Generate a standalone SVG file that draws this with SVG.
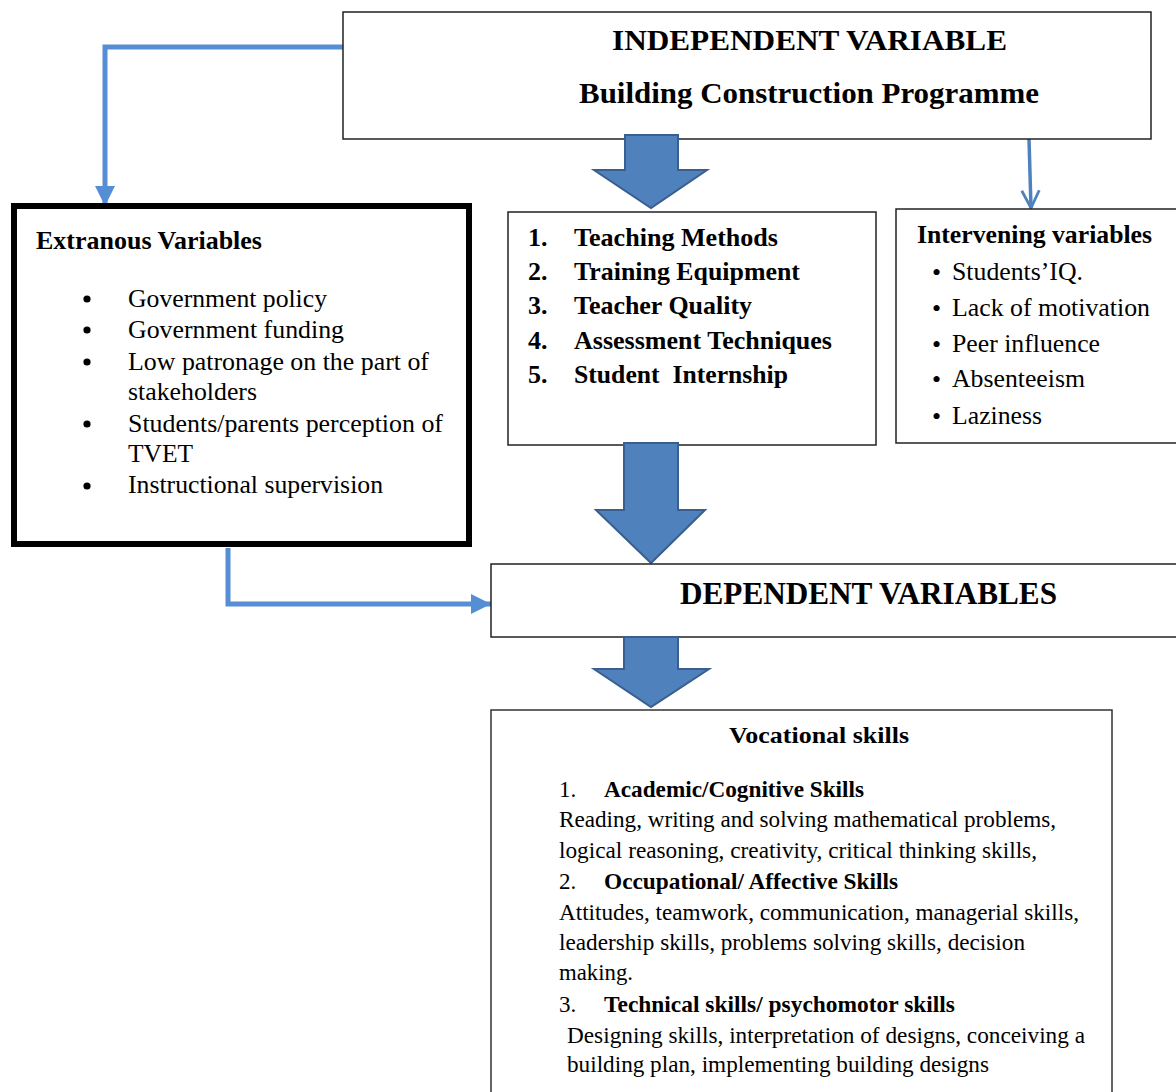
<svg xmlns="http://www.w3.org/2000/svg" width="1176" height="1092" viewBox="0 0 1176 1092">
<style>
text{font-family:"Liberation Serif","Times New Roman",serif;fill:#000}
.b{font-weight:bold}
.box{fill:#fff;stroke:#222;stroke-width:1.5}
.blk{fill:#4F81BD;stroke:#3A5F8E;stroke-width:2;stroke-linejoin:miter}
.ln{fill:none;stroke:#558ED5;stroke-width:5}
.r23{font-size:23px}
.r26{font-size:26px}
.dot{fill:#000}
</style>
<defs>
<marker id="ah" viewBox="0 0 10 10" refX="10" refY="5" markerWidth="4" markerHeight="4" orient="auto" markerUnits="strokeWidth">
<path d="M0,0 L10,5 L0,10 z" fill="#558ED5"/>
</marker>
<marker id="ov" viewBox="0 0 12 12" refX="11" refY="6" markerWidth="6" markerHeight="6" orient="auto" markerUnits="strokeWidth">
<path d="M1,1 L11,6 L1,11" fill="none" stroke="#4F81BD" stroke-width="1.6"/>
</marker>
</defs>

<g id="connectors">
<polyline class="ln" points="345,47 105,47 105,206" marker-end="url(#ah)"/>
<polyline class="ln" points="228,548 228,604 491,604" marker-end="url(#ah)"/>
<line x1="1029" y1="139" x2="1031" y2="208" stroke="#4F81BD" stroke-width="3.5" marker-end="url(#ov)"/>
</g>

<g id="independent">
<rect class="box" x="343" y="12" width="808" height="127"/>
<text class="b" x="612" y="50" font-size="30" textLength="395" lengthAdjust="spacingAndGlyphs">INDEPENDENT VARIABLE</text>
<text class="b" x="579" y="103" font-size="30" textLength="460" lengthAdjust="spacingAndGlyphs">Building Construction Programme</text>
</g>

<g id="arrow1">
<path class="blk" d="M625,135 L678,135 L678,170 L707,170 L651,208 L594,170 L625,170 Z"/>
</g>

<g id="extraneous">
<rect x="14" y="206" width="455" height="338" fill="#fff" stroke="#000" stroke-width="6"/>
<text class="b" x="36" y="249" font-size="25" textLength="226" lengthAdjust="spacingAndGlyphs">Extranous Variables</text>
<circle class="dot" cx="87" cy="299" r="3.6"/>
<circle class="dot" cx="87" cy="330" r="3.6"/>
<circle class="dot" cx="87" cy="362" r="3.6"/>
<circle class="dot" cx="87" cy="424" r="3.6"/>
<circle class="dot" cx="87" cy="486" r="3.6"/>
<g class="r26">
<text x="128" y="307" textLength="199" lengthAdjust="spacingAndGlyphs">Government policy</text>
<text x="128" y="338" textLength="216" lengthAdjust="spacingAndGlyphs">Government funding</text>
<text x="128" y="370" textLength="301" lengthAdjust="spacingAndGlyphs">Low patronage on the part of</text>
<text x="128" y="400" textLength="129" lengthAdjust="spacingAndGlyphs">stakeholders</text>
<text x="128" y="432" textLength="315" lengthAdjust="spacingAndGlyphs">Students/parents perception of</text>
<text x="128" y="462" textLength="65" lengthAdjust="spacingAndGlyphs">TVET</text>
<text x="128" y="493" textLength="255" lengthAdjust="spacingAndGlyphs">Instructional supervision</text>
</g>
</g>

<g id="independent-items">
<rect class="box" x="508" y="212" width="368" height="233"/>
<g class="b r26">
<text x="528" y="246">1.</text>
<text x="574" y="246" textLength="204" lengthAdjust="spacingAndGlyphs">Teaching Methods</text>
<text x="528" y="280">2.</text>
<text x="574" y="280" textLength="226" lengthAdjust="spacingAndGlyphs">Training Equipment</text>
<text x="528" y="314">3.</text>
<text x="574" y="314" textLength="178" lengthAdjust="spacingAndGlyphs">Teacher Quality</text>
<text x="528" y="349">4.</text>
<text x="574" y="349" textLength="258" lengthAdjust="spacingAndGlyphs">Assessment Techniques</text>
<text x="528" y="383">5.</text>
<text x="574" y="383" textLength="214" lengthAdjust="spacingAndGlyphs" xml:space="preserve">Student  Internship</text>
</g>
</g>

<g id="intervening">
<rect class="box" x="896" y="209" width="290" height="234"/>
<text class="b r26" x="917" y="243" textLength="235" lengthAdjust="spacingAndGlyphs">Intervening variables</text>
<g class="r26">
<text x="932" y="281">•</text>
<text x="952" y="280" textLength="131" lengthAdjust="spacingAndGlyphs">Students’IQ.</text>
<text x="932" y="317">•</text>
<text x="952" y="316" textLength="198" lengthAdjust="spacingAndGlyphs">Lack of motivation</text>
<text x="932" y="353">•</text>
<text x="952" y="352" textLength="148" lengthAdjust="spacingAndGlyphs">Peer influence</text>
<text x="932" y="388">•</text>
<text x="952" y="387" textLength="133" lengthAdjust="spacingAndGlyphs">Absenteeism</text>
<text x="932" y="425">•</text>
<text x="952" y="424" textLength="90" lengthAdjust="spacingAndGlyphs">Laziness</text>
</g>
</g>

<g id="arrow2">
<path class="blk" d="M624,443 L678,443 L678,510 L705,510 L651,563 L596,510 L624,510 Z"/>
</g>

<g id="dependent">
<rect class="box" x="491" y="564" width="700" height="73"/>
<text class="b" x="680" y="604" font-size="32" textLength="377" lengthAdjust="spacingAndGlyphs">DEPENDENT VARIABLES</text>
</g>

<g id="arrow3">
<path class="blk" d="M624,637 L678,637 L678,669 L709,669 L651,707 L594,669 L624,669 Z"/>
</g>

<g id="vocational">
<rect x="491" y="710" width="621" height="400" fill="#fff" stroke="#333" stroke-width="1.5"/>
<text class="b" x="729" y="743" font-size="24" textLength="180" lengthAdjust="spacingAndGlyphs">Vocational skills</text>
<g class="r23">
<text x="559" y="797">1.</text>
<text class="b" x="604" y="797" textLength="260" lengthAdjust="spacingAndGlyphs">Academic/Cognitive Skills</text>
<text x="559" y="827" textLength="497" lengthAdjust="spacingAndGlyphs">Reading, writing and solving mathematical problems,</text>
<text x="559" y="858" textLength="478" lengthAdjust="spacingAndGlyphs">logical reasoning, creativity, critical thinking skills,</text>
<text x="559" y="889">2.</text>
<text class="b" x="604" y="889" textLength="294" lengthAdjust="spacingAndGlyphs">Occupational/ Affective Skills</text>
<text x="559" y="920" textLength="520" lengthAdjust="spacingAndGlyphs">Attitudes, teamwork, communication, managerial skills,</text>
<text x="559" y="950" textLength="466" lengthAdjust="spacingAndGlyphs">leadership skills, problems solving skills, decision</text>
<text x="559" y="980" textLength="74" lengthAdjust="spacingAndGlyphs">making.</text>
<text x="559" y="1012">3.</text>
<text class="b" x="604" y="1012" textLength="351" lengthAdjust="spacingAndGlyphs">Technical skills/ psychomotor skills</text>
<text x="567" y="1043" textLength="518" lengthAdjust="spacingAndGlyphs">Designing skills, interpretation of designs, conceiving a</text>
<text x="567" y="1072" textLength="422" lengthAdjust="spacingAndGlyphs">building plan, implementing building designs</text>
</g>
</g>
</svg>
